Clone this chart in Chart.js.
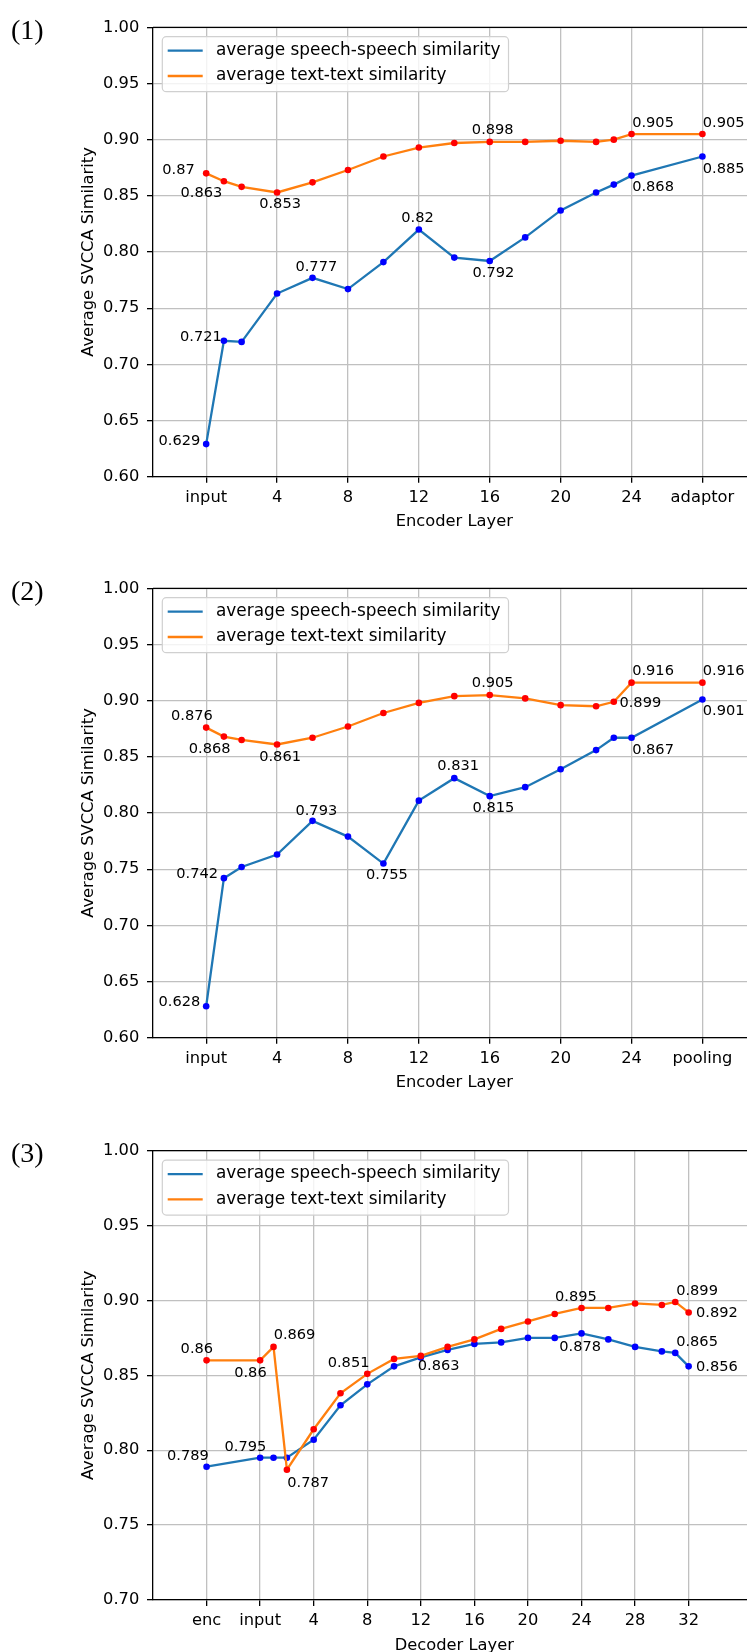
<!DOCTYPE html>
<html>
<head>
<meta charset="utf-8">
<script src="https://cdn.jsdelivr.net/npm/chart.js@4.4.0/dist/chart.umd.min.js"></script>
<style>
  html, body { margin: 0; padding: 0; background: #fff; }
  #wrap { position: relative; width: 747px; height: 1652px; overflow: hidden; }
  canvas { position: absolute; left: 0; }
</style>
</head>
<body>
<div id="wrap">
  <canvas id="chart1" width="760" height="561" style="top:0px"></canvas>
  <canvas id="chart2" width="760" height="561" style="top:561px"></canvas>
  <canvas id="chart3" width="760" height="529" style="top:1123px"></canvas>
</div>
<script>
// Layer positions on the x axis
const encoderLayers = [0, 1, 2, 4, 6, 8, 10, 12, 14, 16, 18, 20, 22, 23, 24, 28];
const decoderLayers = [-4, 0, 1, 2, 4, 6, 8, 10, 12, 14, 16, 18, 20, 22, 24, 26, 28, 30, 31, 32];

// (1) encoder + adaptor
const speech1 = [0.629, 0.721, 0.720, 0.763, 0.777, 0.767, 0.791, 0.82, 0.795, 0.792, 0.813, 0.837, 0.853, 0.860, 0.868, 0.885];
const text1 = [0.87, 0.863, 0.858, 0.853, 0.862, 0.873, 0.885, 0.893, 0.897, 0.898, 0.898, 0.899, 0.898, 0.900, 0.905, 0.905];

// (2) encoder + pooling
const speech2 = [0.628, 0.742, 0.752, 0.763, 0.793, 0.779, 0.755, 0.811, 0.831, 0.815, 0.823, 0.839, 0.856, 0.867, 0.867, 0.901];
const text2 = [0.876, 0.868, 0.865, 0.861, 0.867, 0.877, 0.889, 0.898, 0.904, 0.905, 0.902, 0.896, 0.895, 0.899, 0.916, 0.916];

// (3) decoder
const speech3 = [0.789, 0.795, 0.795, 0.795, 0.807, 0.830, 0.844, 0.856, 0.862, 0.867, 0.871, 0.872, 0.875, 0.875, 0.878, 0.874, 0.869, 0.866, 0.865, 0.856];
const text3 = [0.86, 0.86, 0.869, 0.787, 0.814, 0.838, 0.851, 0.861, 0.863, 0.869, 0.874, 0.881, 0.886, 0.891, 0.895, 0.895, 0.898, 0.897, 0.899, 0.892];

// Tick values and labels
const encoderTicks = [0, 4, 8, 12, 16, 20, 24, 28];
const adaptorTickLabels = ['input', '4', '8', '12', '16', '20', '24', 'adaptor'];
const poolingTickLabels = ['input', '4', '8', '12', '16', '20', '24', 'pooling'];
const decoderTicks = [-4, 0, 4, 8, 12, 16, 20, 24, 28, 32];
const decoderTickLabels = ['enc', 'input', '4', '8', '12', '16', '20', '24', '28', '32'];
const yTicksWide = [0.60, 0.65, 0.70, 0.75, 0.80, 0.85, 0.90, 0.95, 1.00];
const yTicksNarrow = [0.70, 0.75, 0.80, 0.85, 0.90, 0.95, 1.00];

const seriesNames = ['average speech-speech similarity', 'average text-text similarity'];

// Annotated points: [series, index, dx, dy] (text centre offset from the point)
const notes1 = [
    ['text', 0, -27.7, -3.3], ['text', 1, -22.5, 11.7], ['text', 3, 3, 11.7], ['text', 9, 3, -11.3],
    ['text', 14, 21.5, -11.3], ['text', 15, 21.3, -11.3],
    ['speech', 0, -26.7, -3.3], ['speech', 1, -23, -3.3], ['speech', 4, 3.8, -10.4], ['speech', 7, -1.3, -11.7],
    ['speech', 9, 3.7, 12], ['speech', 14, 21.5, 12], ['speech', 15, 21.3, 12.7]
];
const notes2 = [
    ['text', 0, -14.2, -11.6], ['text', 1, -14.3, 13], ['text', 3, 3, 13], ['text', 9, 3, -12],
    ['text', 13, 26.5, 1.3], ['text', 14, 21.5, -11.7], ['text', 15, 21.3, -11.7],
    ['speech', 0, -26.7, -4.4], ['speech', 1, -26.8, -3.7], ['speech', 4, 3.8, -10], ['speech', 6, 3.5, 12],
    ['speech', 8, 3.8, -11.7], ['speech', 9, 3.7, 11.6], ['speech', 14, 21.5, 12], ['speech', 15, 21.3, 12]
];
const notes3 = [
    ['text', 0, -9.7, -11], ['text', 1, -9.7, 13.3], ['text', 2, 21, -12], ['text', 3, 21.2, 14],
    ['text', 6, -18.7, -11], ['text', 8, 17.8, 10], ['text', 14, -5.6, -11], ['text', 18, 21.8, -11],
    ['text', 19, 28.2, 1],
    ['speech', 0, -18.7, -10.7], ['speech', 1, -14.7, -11], ['speech', 14, -1.3, 13.4],
    ['speech', 18, 21.8, -11], ['speech', 19, 28.2, 1]
];

const FONT = '"DejaVu Sans", sans-serif';
const SPEECH_LINE = '#1f77b4';
const TEXT_LINE = '#ff7f0e';

function toPoints(xs, ys) {
    return xs.map((x, i) => ({ x: x, y: ys[i] }));
}

// Extra drawing on top of the chart: value labels, frame, legend, axis titles
function overlayPlugin(cfg) {
    return {
        id: 'overlay',
        afterDatasetsDraw(chart) {
            const ctx = chart.ctx;
            const xs = chart.scales.x;
            const ys = chart.scales.y;
            ctx.save();
            ctx.font = '14.6px ' + FONT;
            ctx.fillStyle = '#000';
            ctx.textAlign = 'center';
            ctx.textBaseline = 'middle';
            cfg.notes.forEach(function(n) {
                const values = n[0] === 'text' ? cfg.text : cfg.speech;
                const v = values[n[1]];
                const px = xs.getPixelForValue(cfg.layers[n[1]]);
                const py = ys.getPixelForValue(v);
                ctx.fillText(String(v), px + n[2], py + n[3]);
            });
            ctx.restore();
        },
        afterDraw(chart) {
            const ctx = chart.ctx;
            const a = chart.chartArea;
            ctx.save();

            // top and right spines
            ctx.strokeStyle = '#000';
            ctx.lineWidth = 1.3;
            ctx.beginPath();
            ctx.moveTo(a.left, a.top);
            ctx.lineTo(a.right, a.top);
            ctx.lineTo(a.right, a.bottom);
            ctx.stroke();

            // legend
            ctx.font = '16.9px ' + FONT;
            const lx = a.left + 9.3;
            const ly = a.top + 9.4;
            const textX = lx + 53.7;
            const maxW = Math.max(...seriesNames.map(s => ctx.measureText(s).width));
            const w = textX - lx + maxW + 8;
            const h = 55;
            ctx.beginPath();
            ctx.roundRect(lx, ly, w, h, 4);
            ctx.fillStyle = 'rgba(255,255,255,0.8)';
            ctx.fill();
            ctx.strokeStyle = '#d0d0d0';
            ctx.lineWidth = 1.2;
            ctx.stroke();
            [SPEECH_LINE, TEXT_LINE].forEach(function(color, i) {
                const y = ly + 14 + i * 25.3;
                ctx.strokeStyle = color;
                ctx.lineWidth = 2.3;
                ctx.beginPath();
                ctx.moveTo(lx + 5.4, y);
                ctx.lineTo(lx + 40.4, y);
                ctx.stroke();
                ctx.fillStyle = '#000';
                ctx.textAlign = 'left';
                ctx.textBaseline = 'middle';
                ctx.fillText(seriesNames[i], textX, y);
            });

            // axis titles
            ctx.font = '16.3px ' + FONT;
            ctx.fillStyle = '#000';
            ctx.textAlign = 'center';
            ctx.textBaseline = 'alphabetic';
            ctx.fillText(cfg.xTitle, (a.left + a.right) / 2, a.bottom + 49.6);
            ctx.save();
            ctx.translate(93, (a.top + a.bottom) / 2);
            ctx.rotate(-Math.PI / 2);
            ctx.fillText('Average SVCCA Similarity', 0, 0);
            ctx.restore();

            // panel number
            ctx.font = '28px "Liberation Serif", serif';
            ctx.textAlign = 'left';
            ctx.fillText(cfg.panel, 11, a.top + 11.5);
            ctx.restore();
        }
    };
}

function SimilarityChart(canvasId, cfg) {
    const ctx = document.getElementById(canvasId);
    const tickFont = { family: FONT, size: 16.3 };

    const chartData = {
        datasets: [
            {
                label: seriesNames[0],
                data: toPoints(cfg.layers, cfg.speech),
                borderColor: SPEECH_LINE,
                borderWidth: 2.3,
                pointBackgroundColor: '#0000ff',
                pointBorderWidth: 0,
                pointRadius: 3.3,
                tension: 0,
                order: 1
            },
            {
                label: seriesNames[1],
                data: toPoints(cfg.layers, cfg.text),
                borderColor: TEXT_LINE,
                borderWidth: 2.3,
                pointBackgroundColor: '#ff0000',
                pointBorderWidth: 0,
                pointRadius: 3.3,
                tension: 0,
                order: 0
            }
        ]
    };

    const options = {
        responsive: false,
        devicePixelRatio: 1,
        animation: false,
        events: [],
        layout: {
            padding: { top: cfg.top, left: 0, right: 4.4, bottom: 0 }
        },
        scales: {
            x: {
                type: 'linear',
                min: cfg.xMin,
                max: cfg.xMax,
                afterBuildTicks: function(scale) {
                    scale.ticks = cfg.xTicks.map(v => ({ value: v }));
                },
                afterFit: function(scale) {
                    scale.height = cfg.xAxisHeight;
                },
                ticks: {
                    autoSkip: false,
                    maxRotation: 0,
                    minRotation: 0,
                    padding: 5,
                    color: '#000',
                    font: tickFont,
                    callback: function(value, index) {
                        return cfg.xLabels[index];
                    }
                },
                grid: {
                    color: '#c0c0c0',
                    lineWidth: 1.3,
                    tickLength: 6,
                    tickColor: '#000',
                    tickWidth: 1.3
                },
                border: { color: '#000', width: 1.3 }
            },
            y: {
                min: cfg.yTicks[0],
                max: 1.0,
                afterBuildTicks: function(scale) {
                    scale.ticks = cfg.yTicks.map(v => ({ value: v }));
                },
                afterFit: function(scale) {
                    scale.width = 153;
                },
                ticks: {
                    padding: 7.7,
                    color: '#000',
                    font: tickFont,
                    callback: function(value) {
                        return value.toFixed(2);
                    }
                },
                grid: {
                    color: '#c0c0c0',
                    lineWidth: 1.3,
                    tickLength: 6,
                    tickColor: '#000',
                    tickWidth: 1.3
                },
                border: { color: '#000', width: 1.3 }
            }
        },
        plugins: {
            legend: { display: false },
            tooltip: { enabled: false }
        }
    };

    ctx.chart = new Chart(ctx, {
        type: 'line',
        data: chartData,
        options: options,
        plugins: [overlayPlugin(cfg)]
    });
}

SimilarityChart('chart1', {
    layers: encoderLayers, speech: speech1, text: text1, notes: notes1,
    xMin: -3, xMax: 31, xTicks: encoderTicks, xLabels: adaptorTickLabels,
    yTicks: yTicksWide, top: 27.3, xAxisHeight: 84.3,
    xTitle: 'Encoder Layer', panel: '(1)'
});
SimilarityChart('chart2', {
    layers: encoderLayers, speech: speech2, text: text2, notes: notes2,
    xMin: -3, xMax: 31, xTicks: encoderTicks, xLabels: poolingTickLabels,
    yTicks: yTicksWide, top: 27.3, xAxisHeight: 84.3,
    xTitle: 'Encoder Layer', panel: '(2)'
});
SimilarityChart('chart3', {
    layers: decoderLayers, speech: speech3, text: text3, notes: notes3,
    xMin: -8, xMax: 37, xTicks: decoderTicks, xLabels: decoderTickLabels,
    yTicks: yTicksNarrow, top: 27.7, xAxisHeight: 52,
    xTitle: 'Decoder Layer', panel: '(3)'
});
</script>
</body>
</html>
